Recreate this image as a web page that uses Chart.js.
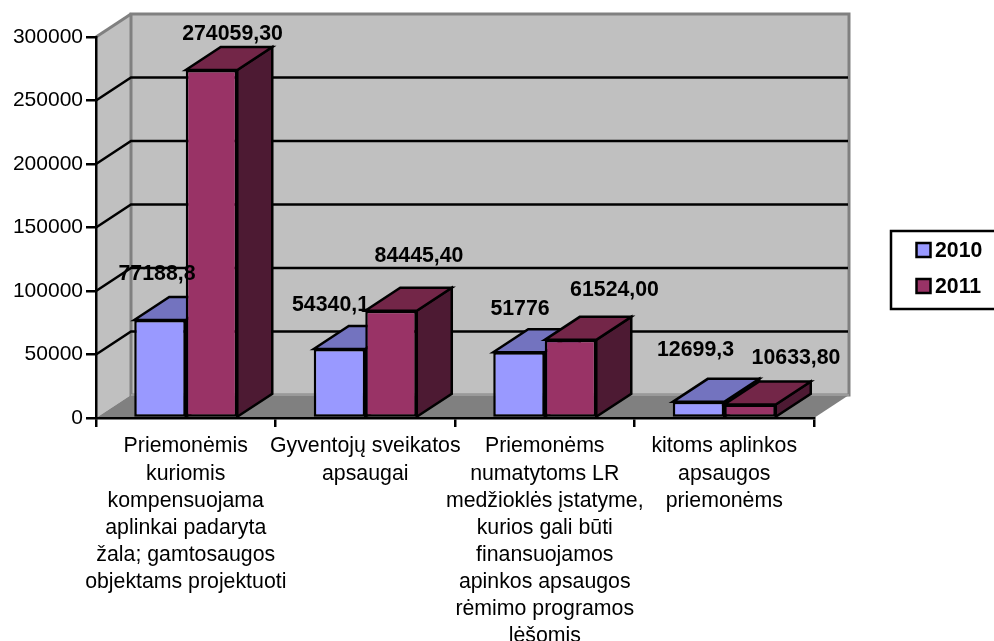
<!DOCTYPE html>
<html>
<head>
<meta charset="utf-8">
<style>
  html, body { margin: 0; padding: 0; background: #fff; overflow: hidden; }
  canvas { display: block; }
</style>
<script src="https://cdn.jsdelivr.net/npm/chart.js@4"></script>
</head>
<body>
<canvas id="envChart" width="994" height="641"></canvas>
<script>
const categories = [
  ["Priemonėmis", "kuriomis", "kompensuojama", "aplinkai padaryta", "žala; gamtosaugos", "objektams projektuoti"],
  ["Gyventojų sveikatos", "apsaugai"],
  ["Priemonėms", "numatytoms LR", "medžioklės įstatyme,", "kurios gali būti", "finansuojamos", "apinkos apsaugos", "rėmimo programos", "lėšomis"],
  ["kitoms aplinkos", "apsaugos", "priemonėms"]
];
const values2010 = [77188.8, 54340.1, 51776, 12699.3];
const values2011 = [274059.3, 84445.4, 61524, 10633.8];
const labels2010 = ["77188,8", "54340,1", "51776", "12699,3"];
const labels2011 = ["274059,30", "84445,40", "61524,00", "10633,80"];
const yTicks = [0, 50000, 100000, 150000, 200000, 250000, 300000];

// depth of the fake 3D box
const DX = 35;
const DY = 23;
const LINE = 2.5;

const frontColors = ["#9999FF", "#993366"];
const topColors = ["#7373BF", "#732648"];
const sideColors = ["#4D4D80", "#4D1A33"];
const valueLabels = [labels2010, labels2011];

// label shift from the top of each bar's front face
const labelShift = [
  [[-3, -46], [-9, -44], [1, -43], [-3, -52]],
  [[21, -36], [28, -55], [44, -50], [46, -46]]
];

function poly(ctx, pts, fill, stroke, lw) {
  ctx.beginPath();
  pts.forEach((p, i) => i ? ctx.lineTo(p[0], p[1]) : ctx.moveTo(p[0], p[1]));
  ctx.closePath();
  if (fill) { ctx.fillStyle = fill; ctx.fill(); }
  if (stroke) { ctx.strokeStyle = stroke; ctx.lineWidth = lw; ctx.stroke(); }
}

const wallsPlugin = {
  id: "walls",
  beforeDraw(chart) {
    const { ctx, chartArea: a, scales: { y } } = chart;
    ctx.save();
    // side wall, back wall, floor
    poly(ctx, [[a.left, a.top], [a.left + DX, a.top - DY], [a.left + DX, a.bottom - DY], [a.left, a.bottom]], "#C0C0C0");
    poly(ctx, [[a.left + DX, a.top - DY], [a.right + DX, a.top - DY], [a.right + DX, a.bottom - DY], [a.left + DX, a.bottom - DY]], "#C0C0C0", "#808080", 3);
    poly(ctx, [[a.left, a.bottom], [a.left + DX, a.bottom - DY], [a.right + DX, a.bottom - DY], [a.right, a.bottom]], "#808080");

    ctx.strokeStyle = "#808080";
    ctx.lineWidth = 3;
    ctx.beginPath();
    ctx.moveTo(a.left, a.top);
    ctx.lineTo(a.left + DX, a.top - DY);
    ctx.stroke();

    ctx.strokeStyle = "#9A9A9A";
    ctx.lineWidth = 2;
    ctx.beginPath();
    ctx.moveTo(a.left + DX, a.bottom - DY);
    ctx.lineTo(a.right + DX, a.bottom - DY);
    ctx.stroke();

    // gridlines across both walls
    ctx.strokeStyle = "#000";
    ctx.lineWidth = LINE;
    yTicks.slice(1, -1).forEach(v => {
      const py = y.getPixelForValue(v);
      ctx.beginPath();
      ctx.moveTo(a.left, py);
      ctx.lineTo(a.left + DX, py - DY);
      ctx.lineTo(a.right + DX - 1, py - DY);
      ctx.stroke();
    });
    ctx.restore();
  },
  beforeDatasetsDraw(chart) {
    const { ctx } = chart;
    ctx.save();
    ctx.lineJoin = "miter";
    // top and right faces, front faces are the real bars
    [0, 1].forEach(d => {
      chart.getDatasetMeta(d).data.forEach(bar => {
        const l = bar.x - bar.width / 2, r = bar.x + bar.width / 2;
        poly(ctx, [[r, bar.y], [r + DX, bar.y - DY], [r + DX, bar.base - DY], [r, bar.base]], sideColors[d], "#000", LINE);
        poly(ctx, [[l, bar.y], [l + DX, bar.y - DY], [r + DX, bar.y - DY], [r, bar.y]], topColors[d], "#000", LINE);
      });
    });
    ctx.restore();
  },
  afterDatasetsDraw(chart) {
    const { ctx } = chart;
    ctx.save();
    ctx.font = "bold 21.3px 'Liberation Sans'";
    ctx.fillStyle = "#000";
    ctx.textAlign = "center";
    ctx.textBaseline = "middle";
    [0, 1].forEach(d => {
      chart.getDatasetMeta(d).data.forEach((bar, i) => {
        const s = labelShift[d][i];
        ctx.fillText(valueLabels[d][i], bar.x + s[0], bar.y + s[1]);
      });
    });
    ctx.restore();
  },
  afterDraw(chart) {
    const { ctx } = chart;
    ctx.save();
    // legend box runs off the right edge
    ctx.fillStyle = "#fff";
    ctx.strokeStyle = "#000";
    ctx.lineWidth = LINE;
    ctx.fillRect(891, 231, 110, 78);
    ctx.strokeRect(891, 231, 110, 78);
    ctx.font = "bold 21.3px 'Liberation Sans'";
    ctx.textAlign = "left";
    ctx.textBaseline = "middle";
    chart.data.datasets.forEach((ds, i) => {
      const cy = 250 + i * 36;
      ctx.fillStyle = ds.backgroundColor;
      ctx.fillRect(916.5, cy - 7, 14, 14);
      ctx.strokeRect(916.5, cy - 7, 14, 14);
      ctx.fillStyle = "#000";
      ctx.fillText(ds.label, 935, cy + 1);
    });
    ctx.restore();
  }
};

Chart.defaults.font.family = "'Liberation Sans'";
Chart.defaults.color = "#000";

new Chart(document.getElementById("envChart"), {
  type: "bar",
  data: {
    labels: categories,
    datasets: [
      { label: "2010", data: values2010, backgroundColor: frontColors[0], borderColor: "#000", borderWidth: LINE, borderSkipped: false },
      { label: "2011", data: values2011, backgroundColor: frontColors[1], borderColor: "#000", borderWidth: LINE, borderSkipped: false }
    ]
  },
  options: {
    responsive: false,
    animation: false,
    devicePixelRatio: 1,
    categoryPercentage: 0.574,
    barPercentage: 1,
    layout: {
      autoPadding: false,
      padding: { top: 37, right: 180, left: 0, bottom: 0 }
    },
    plugins: { legend: { display: false }, tooltip: { enabled: false } },
    scales: {
      x: {
        afterFit(scale) { scale.height = 223; },
        grid: { drawOnChartArea: false, color: "#000", lineWidth: LINE, tickLength: 9 },
        border: { color: "#000", width: LINE },
        ticks: {
          autoSkip: false,
          maxRotation: 0,
          padding: 6,
          font: { size: 21.3, lineHeight: 1.272 }
        }
      },
      y: {
        min: 0,
        max: 300000,
        afterFit(scale) { scale.width = 96; },
        afterBuildTicks(scale) { scale.ticks = yTicks.map(v => ({ value: v })); },
        grid: { drawOnChartArea: false, color: "#000", lineWidth: LINE, tickLength: 10 },
        border: { color: "#000", width: LINE },
        ticks: {
          padding: 3,
          font: { size: 21 },
          callback: v => String(v)
        }
      }
    }
  },
  plugins: [wallsPlugin]
});
</script>
</body>
</html>
